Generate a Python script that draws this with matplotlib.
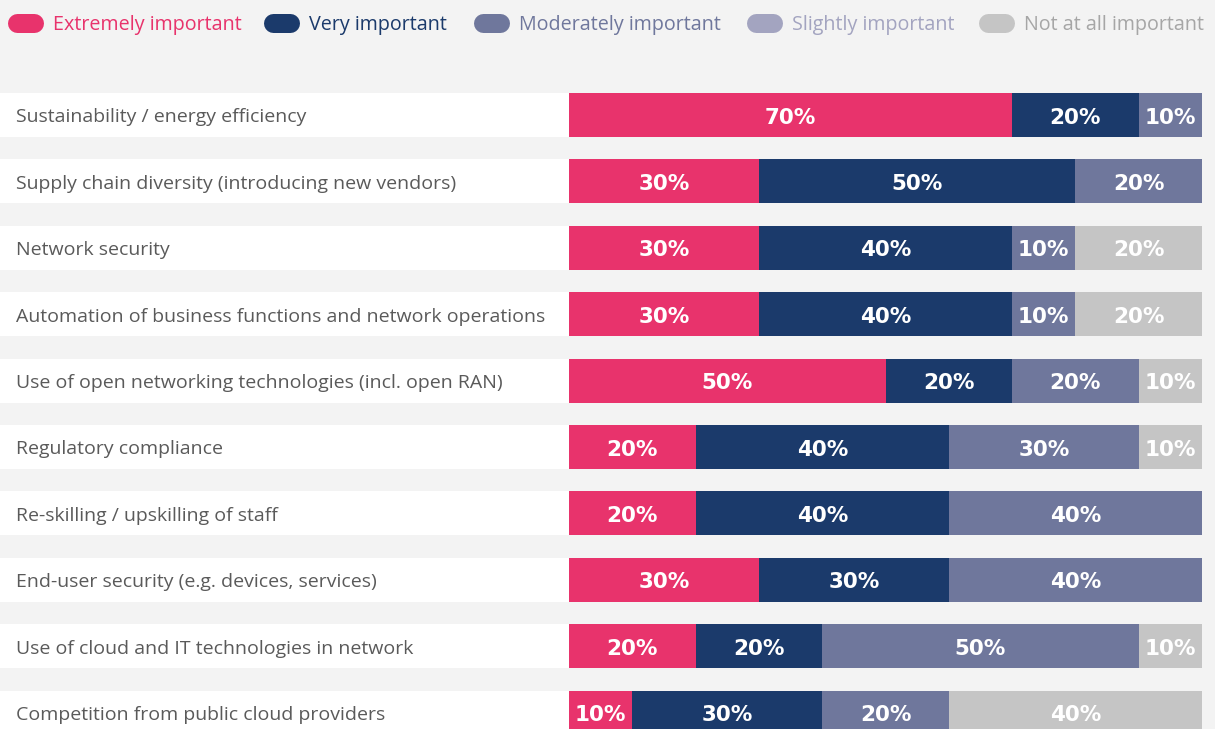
import numpy as np
import matplotlib
matplotlib.use("Agg")
from matplotlib import pyplot as plt
from matplotlib.lines import Line2D

categories = [
    "Sustainability / energy efficiency",
    "Supply chain diversity (introducing new vendors)",
    "Network security",
    "Automation of business functions and network operations",
    "Use of open networking technologies (incl. open RAN)",
    "Regulatory compliance",
    "Re-skilling / upskilling of staff",
    "End-user security (e.g. devices, services)",
    "Use of cloud and IT technologies in network",
    "Competition from public cloud providers",
]
series_names = ["Extremely important", "Very important", "Moderately important",
                "Slightly important", "Not at all important"]
extremely = [70, 30, 30, 30, 50, 20, 20, 30, 20, 10]
very = [20, 50, 40, 40, 20, 40, 40, 30, 20, 30]
moderately = [10, 20, 10, 10, 20, 30, 40, 40, 50, 20]
slightly = [0, 0, 0, 0, 0, 0, 0, 0, 0, 0]
not_at_all = [0, 0, 20, 20, 10, 10, 0, 0, 10, 40]

colors = ["#e8336c", "#1b3a6b", "#6f779c", "#a3a4c0", "#c5c5c5"]
legend_text_colors = ["#e8336c", "#1b3a6b", "#6f779c", "#a3a4c0", "#a6a6a6"]
BG = "#f3f3f3"

W, H = 1215, 729
fig = plt.figure(figsize=(W / 100, H / 100), dpi=100, facecolor=BG)
ax = fig.add_axes([0, 0, 1, 1])
ax.set_facecolor(BG)

# pixel layout: bar from 569 to 1202 px, rows centred at 115 + 66.4*i
px_per_pct = (1202 - 569) / 100.0
x_left = -569 / px_per_pct
x_right = 100 + (W - 1202) / px_per_pct
pitch = 66.4
ax.set_xlim(x_left, x_right)
ax.set_ylim((H - 115) / pitch, -115 / pitch)
ax.axis("off")

rows = np.arange(len(categories))
bar_h = 44 / pitch

# white label boxes
ax.barh(rows, -x_left, left=x_left, height=bar_h, color="white", linewidth=0)
for r, cat in zip(rows, categories):
    ax.text(x_left + 16 / px_per_pct, r + 0.035, cat, va="center", ha="left",
            fontsize=14, color="#5a5a5a", family="Open Sans")

data = [extremely, very, moderately, slightly, not_at_all]
left = np.zeros(len(categories))
for vals, col in zip(data, colors):
    vals = np.array(vals, dtype=float)
    ax.barh(rows, vals, left=left, height=bar_h, color=col, linewidth=0)
    for r, v, l in zip(rows, vals, left):
        if v > 0:
            ax.text(l + v / 2, r + 0.04, f"{int(v)}%", ha="center", va="center",
                    color="white", fontsize=15.5, fontweight="bold",
                    family="DejaVu Sans")
    left += vals

# legend with pill markers
leg_x = [7, 263, 473, 746, 978]
leg_y = 1 - 22.5 / H
for x0, name, col, tcol in zip(leg_x, series_names, colors, legend_text_colors):
    line = Line2D([(x0 + 9.5) / W, (x0 + 27) / W], [leg_y, leg_y],
                  transform=fig.transFigure, color=col, lw=19 * 0.72,
                  solid_capstyle="round")
    fig.add_artist(line)
    fig.text((x0 + 46) / W, leg_y - 0.003, name, color=tcol, fontsize=14.2,
             va="center", ha="left", family="Open Sans")

fig.savefig("out.png", dpi=100, facecolor=BG)
